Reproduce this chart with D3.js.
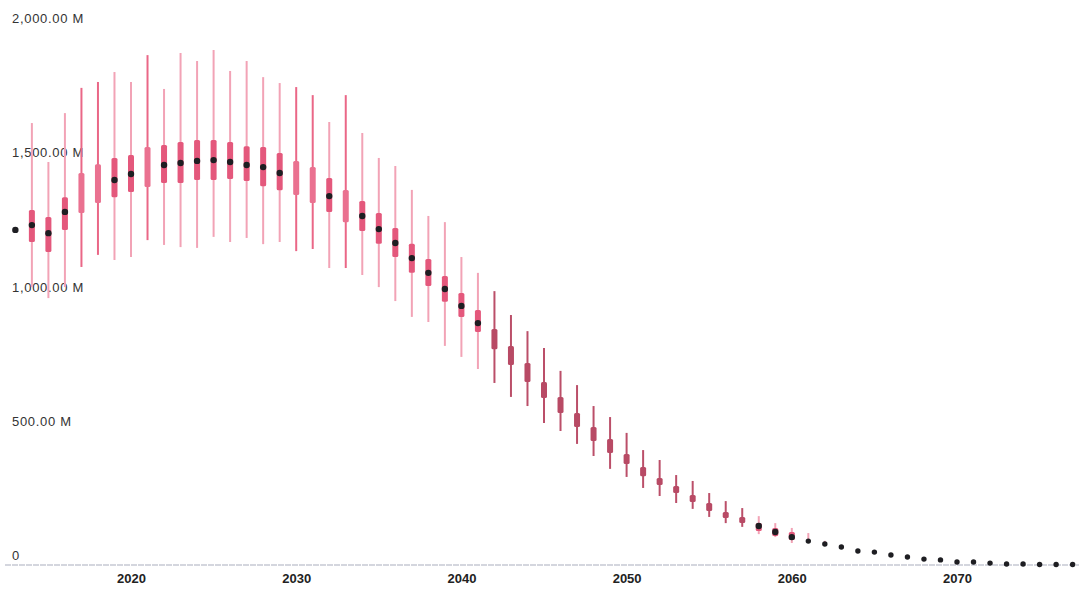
<!DOCTYPE html>
<html>
<head>
<meta charset="utf-8">
<script src="https://cdn.jsdelivr.net/npm/d3@7"></script>
<style>
  html, body { margin: 0; padding: 0; background: #fff; }
  svg { display: block; }
</style>
</head>
<body>
<svg id="chart" width="1079" height="591"></svg>
<script>
// ---- data (values in millions) ----
const years = d3.range(2013, 2078);
const lowValues = [null,1035,994,1035,1110,1155,1136,1147,1210,1192,1184,1181,1222,1203,1218,1195,1203,1169,1177,1106,1106,1080,1035,983,924,905,816,775,730,678,626,592,529,499,451,406,358,328,287,257,231,209,179,156,142,115,104,82,82,null,null,null,null,null,null,null,null,null,null,null,null,null,null,null,null];
const q1Values = [null,1203,1166,1248,1311,1348,1370,1389,1408,1423,1423,1434,1434,1438,1430,1411,1396,1378,1348,1315,1277,1244,1196,1147,1088,1039,980,924,868,804,745,682,622,566,514,462,417,376,331,298,268,235,201,175,156,127,108,93,null,null,null,null,null,null,null,null,null,null,null,null,null,null,null,null,null];
const q3Values = [null,1322,1296,1370,1460,1493,1516,1527,1557,1564,1575,1583,1583,1575,1560,1557,1534,1505,1482,1441,1397,1356,1311,1255,1196,1140,1076,1013,950,879,816,752,682,626,566,514,469,413,365,324,294,261,231,197,179,156,138,123,null,null,null,null,null,null,null,null,null,null,null,null,null,null,null,null,null];
const highValues = [null,1646,1501,1683,1777,1799,1836,1799,1899,1773,1907,1877,1918,1840,1877,1817,1795,1780,1750,1650,1750,1609,1516,1486,1397,1300,1277,1147,1088,1020,931,871,808,723,670,592,551,492,428,391,335,313,268,238,212,182,156,138,119,90,null,null,null,null,null,null,null,null,null,null,null,null,null,null,null];
const medianValues = [1248,1266,1236,1315,null,null,1434,1456,null,1490,1497,1505,1508,1501,1490,1482,1460,null,null,1374,null,1300,1251,1199,1143,1088,1028,965,901,null,null,null,null,null,null,null,null,null,null,null,null,null,null,null,null,145,123,104,89,78,67,52,48,37,30,22,19,11,11,7,4,4,2,2,2];
const xTicks = [2020, 2030, 2040, 2050, 2060, 2070];
const yTicks = [0, 500, 1000, 1500, 2000];

const rows = years.map((y, i) => ({
  year: y, low: lowValues[i], q1: q1Values[i], q3: q3Values[i],
  high: highValues[i], median: medianValues[i]
}));

// ---- layout ----
const svg = d3.select("#chart");
const x = d3.scaleLinear().domain([2020, 2070]).range([131, 957]);
const y = d3.scaleLinear().domain([0, 2000]).range([565, 28]);
const fmt = v => v === 0 ? "0" : d3.format(",.2f")(v) + " M";

function group(d) {
  if (d.year >= 2042 && d.year <= 2057) return "dark";
  if (d.median === null) return "bright";
  return "light";
}
const whiskerColor = { light: "#f2a3b6", bright: "#ea6787", dark: "#bb4f69" };
const boxColor = { light: "#e4587c", bright: "#ea7190", dark: "#b84a65" };

// baseline
svg.append("line")
  .attr("x1", 5).attr("x2", 1079)
  .attr("y1", y(0)).attr("y2", y(0))
  .attr("stroke", "#a9adbd").attr("stroke-width", 1)
  .attr("stroke-dasharray", "6,1");

// y labels
svg.append("g").selectAll("text").data(yTicks).join("text")
  .attr("x", 12).attr("y", d => y(d) - 5)
  .attr("font-family", "Liberation Sans, Arial, sans-serif")
  .attr("font-size", 13).attr("letter-spacing", 0.7).attr("fill", "#333")
  .text(fmt);

// x axis labels
const xAxis = d3.axisBottom(x).tickValues(xTicks).tickFormat(d3.format("d")).tickSize(0).tickPadding(9);
const gx = svg.append("g").attr("transform", `translate(0,${y(0)})`).call(xAxis);
gx.select(".domain").remove();
gx.selectAll("text")
  .attr("font-family", "Liberation Sans, Arial, sans-serif")
  .attr("font-size", 13).attr("font-weight", "bold").attr("fill", "#222");

const marks = svg.append("g");

// whiskers
marks.selectAll("line.whisker")
  .data(rows.filter(d => d.high !== null))
  .join("line").attr("class", "whisker")
  .attr("x1", d => x(d.year)).attr("x2", d => x(d.year))
  .attr("y1", d => y(d.high))
  .attr("y2", d => y(d.low !== null ? d.low : (d.median !== null ? d.median : d.high)))
  .attr("stroke", d => whiskerColor[group(d)])
  .attr("stroke-width", 2);

// boxes
marks.selectAll("rect.box")
  .data(rows.filter(d => d.q1 !== null && d.q3 !== null))
  .join("rect").attr("class", "box")
  .attr("x", d => x(d.year) - 3).attr("width", 6)
  .attr("y", d => y(d.q3))
  .attr("height", d => y(d.q1) - y(d.q3))
  .attr("rx", 1.5)
  .attr("fill", d => boxColor[group(d)]);

// median points
marks.selectAll("circle.median")
  .data(rows.filter(d => d.median !== null))
  .join("circle").attr("class", "median")
  .attr("cx", d => x(d.year)).attr("cy", d => y(d.median))
  .attr("r", d => d.year >= 2061 ? 2.7 : 3.2)
  .attr("fill", "#1e1e22");
</script>
</body>
</html>
